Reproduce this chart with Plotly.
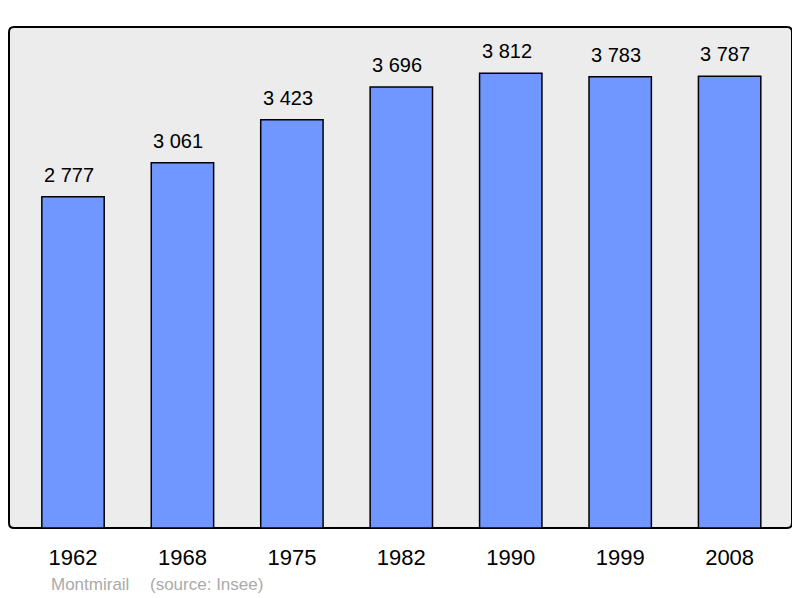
import plotly.graph_objects as go

years = ["1962", "1968", "1975", "1982", "1990", "1999", "2008"]
population = [2777, 3061, 3423, 3696, 3812, 3783, 3787]
labels = ["2 777", "3 061", "3 423", "3 696", "3 812", "3 783", "3 787"]

# page has an 8px body margin, so the figure is sized to fit the window
OFF = 8
W, H = 800 - OFF, 598 - OFF
# target plot area in page pixels: x 9..792, y 27..528
L, T = 9 - OFF, 27 - OFF
R = 800 - 792
B = 598 - 528
PW, PH = W - L - R, H - T - B

X_RANGE = [-0.585, 6.57]
BAR_W = 0.57
bar_half_px = BAR_W / 2 * PW / (X_RANGE[1] - X_RANGE[0])

def px_x(page_x):
    return (page_x - OFF - L) / PW

def px_y(page_y):
    return 1 - (page_y - OFF - T) / PH

FONT = "Liberation Sans, Arial"

fig = go.Figure()
fig.add_trace(go.Bar(
    x=list(range(len(years))), y=population,
    width=BAR_W,
    marker=dict(color="#7097ff", line=dict(color="#000000", width=1.5)),
    hoverinfo="skip",
))

for i, (v, t) in enumerate(zip(population, labels)):
    fig.add_annotation(x=i, y=v, text=t, showarrow=False, yanchor="middle", xanchor="left",
                       yshift=22, xshift=-bar_half_px,
                       font=dict(family=FONT, size=20, color="#000000"))

# rounded plot-area frame
rx = 5 / PW
ry = 5 / PH
path = (f"M {rx},0 L {1-rx},0 Q 1,0 1,{ry} "
        f"L 1,{1-ry} Q 1,1 {1-rx},1 L {rx},1 "
        f"Q 0,1 0,{1-ry} L 0,{ry} Q 0,0 {rx},0 Z")
fig.add_shape(type="path", path=path, xref="paper", yref="paper",
              fillcolor="#ececec", line=dict(color="#000000", width=2), layer="below")

fig.add_annotation(x=px_x(49), y=px_y(584), xref="paper", yref="paper", text="Montmirail",
                   showarrow=False, xanchor="left", yanchor="middle",
                   font=dict(family=FONT, size=17, color="#aaaaaa"))
fig.add_annotation(x=px_x(148), y=px_y(584), xref="paper", yref="paper", text="(source: Insee)",
                   showarrow=False, xanchor="left", yanchor="middle",
                   font=dict(family=FONT, size=17, color="#aaaaaa"))

fig.update_layout(
    width=W, height=H,
    margin=dict(l=L, r=R, t=T, b=B, pad=0),
    paper_bgcolor="#ffffff", plot_bgcolor="rgba(0,0,0,0)",
    showlegend=False,
    xaxis=dict(range=X_RANGE, tickmode="array", tickvals=list(range(len(years))),
               ticktext=years, showgrid=False, zeroline=False, showline=False,
               ticks="", ticklabelstandoff=14,
               tickfont=dict(family=FONT, size=22, color="#000000")),
    yaxis=dict(range=[0, 4200], showgrid=False, zeroline=False, showline=False,
               showticklabels=False, ticks=""),
)

fig.write_html("out.html")
